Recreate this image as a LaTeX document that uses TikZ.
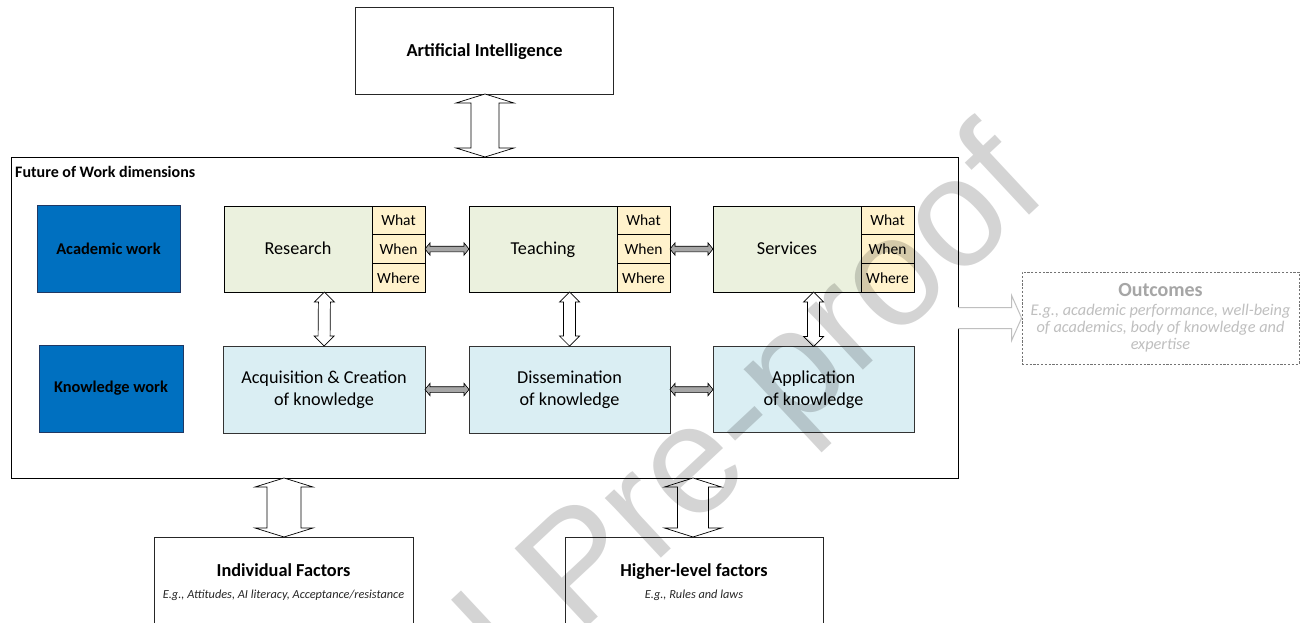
\documentclass[tikz,border=0pt]{standalone}
\usepackage{fontspec}
\setmainfont{Carlito}
\newfontfamily\wmfont{Liberation Sans}
\usetikzlibrary{calc}
\definecolor{acadblue}{HTML}{0070C0}
\definecolor{acadborder}{HTML}{1F3864}
\definecolor{greenfill}{HTML}{EBF1DE}
\definecolor{cellfill}{HTML}{FFF2CC}
\definecolor{bluefill}{HTML}{DAEEF3}
\definecolor{arrgray}{HTML}{A6A6A6}
\definecolor{outgray}{HTML}{BFBFBF}
\definecolor{outtitle}{HTML}{A6A6A6}
\newcommand{\fs}[2]{\fontsize{#1}{#2}\selectfont}
% double-headed block arrow between two points
\newcommand{\dblarrow}[6]{%
  \path let \p1=#1, \p2=#2 in \pgfextra{%
    \pgfmathsetmacro\dalen{veclen(\x2-\x1,\y2-\y1)}\xdef\dalen{\dalen}%
    \pgfmathsetmacro\daang{atan2(\y2-\y1,\x2-\x1)}\xdef\daang{\daang}%
    \xdef\dax{\x1}\xdef\day{\y1}};
  \begin{scope}[shift={(\dax,\day)}, rotate=\daang, x=1pt, y=1pt]
    \draw[#6] (0,0) -- (#5,#4) -- (#5,#3) -- (\dalen-#5,#3) -- (\dalen-#5,#4)
      -- (\dalen,0) -- (\dalen-#5,-#4) -- (\dalen-#5,-#3) -- (#5,-#3) -- (#5,-#4) -- cycle;
  \end{scope}}
% single-headed block arrow
\newcommand{\sglarrow}[6]{%
  \path let \p1=#1, \p2=#2 in \pgfextra{%
    \pgfmathsetmacro\dalen{veclen(\x2-\x1,\y2-\y1)}\xdef\dalen{\dalen}%
    \pgfmathsetmacro\daang{atan2(\y2-\y1,\x2-\x1)}\xdef\daang{\daang}%
    \xdef\dax{\x1}\xdef\day{\y1}};
  \begin{scope}[shift={(\dax,\day)}, rotate=\daang, x=1pt, y=1pt]
    \draw[#6] (0,#3) -- (\dalen-#5,#3) -- (\dalen-#5,#4)
      -- (\dalen,0) -- (\dalen-#5,-#4) -- (\dalen-#5,-#3) -- (0,-#3);
  \end{scope}}
\tikzset{
  plainbox/.style={draw=black!85, line width=0.8pt, fill=white, inner sep=0pt, outer sep=0pt},
  framebox/.style={draw=black, line width=0.8pt, inner sep=0pt, outer sep=0pt},
  labelbox/.style={draw=acadborder, line width=0.8pt, fill=acadblue, inner sep=0pt, outer sep=0pt,
    minimum width=143, minimum height=87, font=\bfseries\fs{16.4}{19}},
  greenbox/.style={draw=black, line width=0.8pt, fill=greenfill, inner sep=0pt, outer sep=0pt,
    minimum width=201, minimum height=86},
  cellbox/.style={draw=black, line width=0.8pt, fill=cellfill, inner sep=0pt, outer sep=0pt,
    minimum width=53, minimum height=28.67, font=\fs{15.5}{18}},
  knowbox/.style={draw=black!80, line width=0.8pt, fill=bluefill, inner sep=0pt, outer sep=0pt,
    minimum width=202, minimum height=87, align=center, font=\fs{18.2}{22}},
  maintext/.style={font=\fs{18.2}{21}, inner sep=0pt},
  titletext/.style={font=\bfseries\fs{18.3}{21}, inner sep=0pt},
  subtext/.style={font=\itshape\fs{12.3}{14}, text=black!85, inner sep=0pt},
  whitearrow/.style={draw=black, line width=0.7pt, fill=white, line join=miter},
  grayarrow/.style={draw=black, line width=0.6pt, fill=arrgray, line join=miter},
  outarrow/.style={draw=outgray, line width=1pt, fill=white, line join=miter},
  watermark/.style={font=\wmfont\fs{155}{155}, text=black, text opacity=0.17, rotate=43, inner sep=0pt},
}
\begin{document}
\begin{tikzpicture}[x=1pt, y=-1pt]
\useasboundingbox (0,0) rectangle (1301,623);
\clip (0,0) rectangle (1301,623);
\fill[white] (0,0) rectangle (1301,623);

% Artificial Intelligence
\node[plainbox, minimum width=258, minimum height=87] (ai) at (484,50.5) {};
\node[titletext, anchor=base] (ailbl) at (484.5,56.5) {Artificial Intelligence};

% Future of work frame
\node[framebox, minimum width=947, minimum height=321] (fow) at (484.5,317.5) {};
\node[anchor=base west, inner sep=0pt, font=\bfseries\fs{16}{19}] (fowlabel) at (15,177) {Future of Work dimensions};

% Row labels
\node[labelbox] (acad) at (108.5,248.5) {Academic work};
\node[labelbox, minimum width=144] (know) at (111,388.5) {Knowledge work};

% Academic work boxes
\foreach \nm/\cx/\lbl in {res/324.5/Research, tea/569.5/Teaching, ser/813.5/Services}{
  \node[greenbox] (\nm) at (\cx,249) {};
  \node[maintext, anchor=base] (\nm lbl) at ($(\nm.center)+(-26.5,5.5)$) {\lbl};
  \node[cellbox, anchor=north east] (\nm what) at (\nm.north east) {What};
  \node[cellbox, anchor=north] (\nm when) at (\nm what.south) {When};
  \node[cellbox, anchor=north] (\nm where) at (\nm when.south) {Where};
}

% Knowledge work boxes
\node[knowbox] (acq) at (324,389.5) {Acquisition \& Creation\\of knowledge};
\node[knowbox, minimum width=201] (dis) at (569.5,389.5) {Dissemination\\of knowledge};
\node[knowbox, minimum width=201, minimum height=86] (app) at (813.5,389.5) {Application\\of knowledge};

% Outcomes
\node[draw=black!55, dash pattern=on 2.2pt off 1.6pt, line width=0.8pt, inner sep=0pt,
  minimum width=277, minimum height=92] (out) at (1160.5,318) {};
\node[font=\bfseries\fs{20}{22}, text=outtitle, inner sep=0pt, anchor=base] (outt) at (1160.5,296.5) {Outcomes};
\node[font=\itshape\fs{16.3}{17.2}, text=outgray, align=center, inner sep=0pt, anchor=north] (outd) at (1160.5,303.5) {E.g., academic performance, well-being\\of academics, body of knowledge and\\expertise};

% Bottom factor boxes
\node[plainbox, minimum width=259, minimum height=100] (ind) at (283.5,587) {};
\node[titletext, anchor=base] (indt) at (283.5,576) {Individual Factors};
\node[subtext, anchor=base] (indd) at (283.5,598) {E.g., Attitudes, AI literacy, Acceptance/resistance};
\node[plainbox, minimum width=258, minimum height=100] (hl) at (694,587) {};
\node[titletext, anchor=base] (hlt) at (694,576) {Higher-level factors};
\node[subtext, anchor=base] (hld) at (694,598) {E.g., Rules and laws};

% Connectors
\coordinate (aibot) at ($(ai.south)+(1,0)$);
\coordinate (fowtop) at (aibot |- fow.north);
\dblarrow{(aibot)}{(fowtop)}{14}{29}{9}{whitearrow}

\coordinate (indtop) at ($(ind.north)+(0.5,0)$);
\coordinate (fowbotA) at (indtop |- fow.south);
\dblarrow{(fowbotA)}{(indtop)}{17}{29}{9}{whitearrow}
\coordinate (hltop) at ($(hl.north)+(-1,0)$);
\coordinate (fowbotB) at (hltop |- fow.south);
\dblarrow{(fowbotB)}{(hltop)}{15.5}{28.5}{9}{whitearrow}

\dblarrow{(res.south)}{(acq.north)}{6}{10}{10}{whitearrow}
\dblarrow{(tea.south)}{(dis.north)}{6}{10}{10}{whitearrow}
\dblarrow{(ser.south)}{(app.north)}{6}{10}{10}{whitearrow}

\dblarrow{(reswhen.east)}{(tea.west |- reswhen.east)}{2.8}{6.2}{5}{grayarrow}
\dblarrow{(teawhen.east)}{(ser.west |- teawhen.east)}{2.8}{6.2}{5}{grayarrow}
\dblarrow{(acq.east)}{(dis.west)}{2.8}{6.2}{5}{grayarrow}
\dblarrow{(dis.east)}{(app.west)}{2.8}{6.2}{5}{grayarrow}

\coordinate (fowright) at (fow.east |- out.west);
\sglarrow{(fowright)}{(out.west)}{10.5}{22.5}{10}{outarrow}

% Watermark
\node[watermark, anchor=base west] (wm) at (578,636) {Pre-proof};
\node[watermark, anchor=base east] (wmj) at ($(wm.base west)+(-32,30)$) {Journal};
\end{tikzpicture}
\end{document}
